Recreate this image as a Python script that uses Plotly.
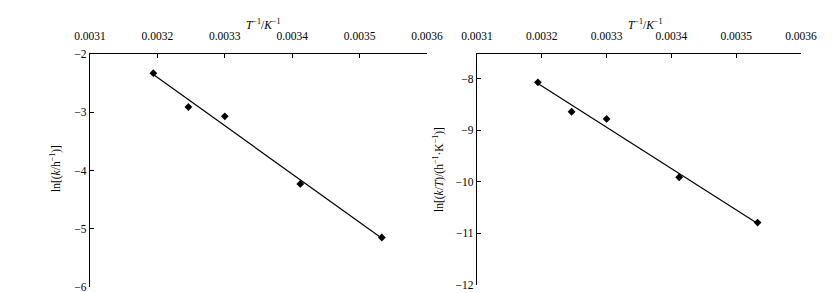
import numpy as np
import plotly.graph_objects as go

# Data
inv_T = [0.003194, 0.003246, 0.003300, 0.003412, 0.003533]
ln_k = [-2.33, -2.91, -3.07, -4.23, -5.15]
ln_kT = [-8.07, -8.64, -8.78, -9.91, -10.79]

x_ticks = [0.0031, 0.0032, 0.0033, 0.0034, 0.0035, 0.0036]
x_ticktext = ["0.0031", "0.0032", "0.0033", "0.0034", "0.0035", "0.0036"]

W, H = 839, 293
FONT = "Liberation Serif"

def fit(x, y):
    a, b = np.polyfit(x, y, 1)
    xs = np.array([min(x), max(x)])
    return xs, a * xs + b

fig = go.Figure()

for i, (yv, xa, ya) in enumerate([(ln_k, "x", "y"), (ln_kT, "x2", "y2")]):
    fx, fy = fit(inv_T, yv)
    fig.add_trace(go.Scatter(x=fx, y=fy, mode="lines", line=dict(color="black", width=1.2),
                             xaxis=xa, yaxis=ya, showlegend=False, hoverinfo="skip"))
    fig.add_trace(go.Scatter(x=inv_T, y=yv, mode="markers",
                             marker=dict(symbol="diamond", size=6, color="black"),
                             xaxis=xa, yaxis=ya, showlegend=False))

def px_x(p):
    return p / W

def px_y(p):
    return 1 - p / H

xcommon = dict(side="top", range=[0.0031, 0.0036], tickvals=x_ticks, ticktext=x_ticktext,
               showline=True, linecolor="black", linewidth=1.3, ticks="inside", ticklen=4,
               tickcolor="black", showgrid=False, zeroline=False, automargin=False,
               ticklabelstandoff=8,
               tickfont=dict(family=FONT, size=11.5, color="black"))
ycommon = dict(showline=True, linecolor="black", linewidth=1.3, ticks="inside", ticklen=4,
               tickcolor="black", showgrid=False, zeroline=False, automargin=False, dtick=1,
               tickfont=dict(family=FONT, size=11.5, color="black"))

fig.update_layout(
    width=W, height=H,
    margin=dict(l=0, r=0, t=0, b=0),
    paper_bgcolor="white", plot_bgcolor="white",
    font=dict(family=FONT, size=11.5, color="black"),
    xaxis=dict(**xcommon, domain=[px_x(82), px_x(419)], anchor="y"),
    yaxis=dict(**ycommon, domain=[px_y(279), px_y(46)], range=[-6, -2], anchor="x"),
    xaxis2=dict(**xcommon, domain=[px_x(469), px_x(793)], anchor="y2"),
    yaxis2=dict(**ycommon, domain=[px_y(277), px_y(46)], range=[-12, -7.52], anchor="x2"),
)

xtitle = "<i>T</i><sup>−1</sup>/<i>K</i><sup>−1</sup>"
annots = [
    dict(x=px_x(255), y=px_y(16), text=xtitle),
    dict(x=px_x(637), y=px_y(16), text=xtitle),
    dict(x=px_x(47), y=px_y(161), text="ln[(<i>k</i>/h<sup>−1</sup>)]", textangle=-90),
    dict(x=px_x(430), y=px_y(162), text="ln[(<i>k</i>/<i>T</i>)/(h<sup>−1</sup>·K<sup>−1</sup>)]", textangle=-90),
]
for a in annots:
    fig.add_annotation(xref="paper", yref="paper", showarrow=False,
                       font=dict(family=FONT, size=11.5, color="black"),
                       xanchor="center", yanchor="middle", **a)

fig.write_html("out.html")
